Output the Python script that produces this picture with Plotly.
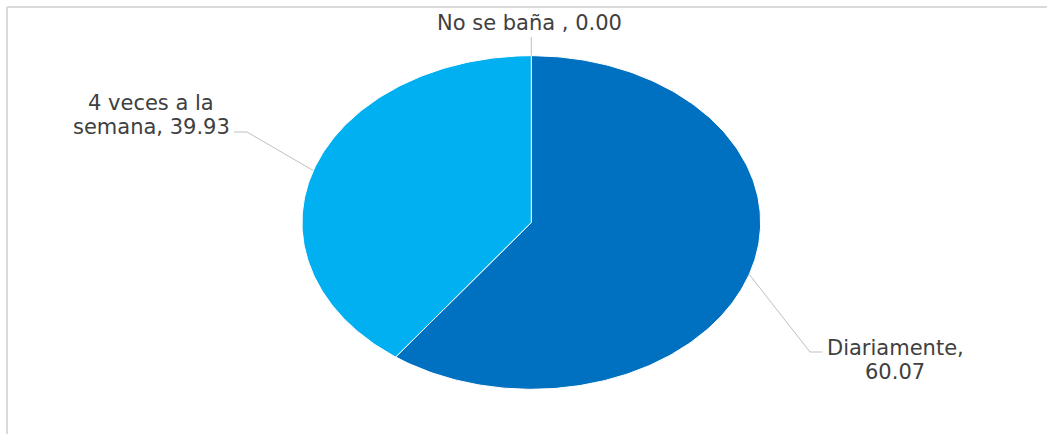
import numpy as np
import plotly.graph_objects as go

# ---- data ----
categories = ["No se baña ", "Diariamente", "4 veces a la semana"]
values = [0.00, 60.07, 39.93]
label_lines = [["No se baña , 0.00"], ["Diariamente,", "60.07"], ["4 veces a la", "semana, 39.93"]]

# ---- style / layout constants ----
colors = ["#4472C4", "#0070C0", "#00B0F0"]
W, H = 1047, 434
CX, CY, RX, RY = 531.3, 222.5, 229.3, 166.8  # ellipse centre and radii in pixels
TEXT_COLOR = "#404040"
LINE_COLOR = "#BFBFBF"
FONT = "DejaVu Sans"
FS = 21
# label layout: (elbow point, label end point, label centre x, first line centre y)
label_layout = [
    dict(elbow=None, end=(CX, 37), lx=529, ly=23),
    dict(elbow=(810, 352), end=(822, 352), lx=895, ly=348),
    dict(elbow=(247, 132), end=(234, 132), lx=151, ly=103),
]
LINE_GAP = 23.5


def pt(frac):
    """Point on ellipse at fraction of full turn, clockwise from 12 o'clock."""
    t = 2 * np.pi * frac
    return CX + RX * np.sin(t), CY - RY * np.cos(t)


fig = go.Figure()
total = sum(values)
cum = 0.0
anchors = []
for cat, v, col in zip(categories, values, colors):
    f0 = cum / total
    f1 = (cum + v) / total
    mid = (f0 + f1) / 2
    anchors.append(pt(mid))
    if v > 0:
        n = max(int(400 * (f1 - f0)), 2)
        fr = np.linspace(f0, f1, n)
        xs, ys = pt(fr)
        xs = np.concatenate([[CX], xs, [CX]])
        ys = np.concatenate([[CY], ys, [CY]])
        fig.add_trace(go.Scatter(
            x=xs, y=ys, mode="lines", fill="toself", fillcolor=col,
            line=dict(color="white", width=1), name=cat,
            hoverinfo="text", text=f"{cat}, {v:.2f}", showlegend=False))
    cum += v

# leader lines and labels
for (ax, ay), lay, lines in zip(anchors, label_layout, label_lines):
    pts = [(ax, ay)]
    if lay["elbow"] is not None:
        pts.append(lay["elbow"])
    pts.append(lay["end"])
    fig.add_trace(go.Scatter(
        x=[p[0] for p in pts], y=[p[1] for p in pts], mode="lines",
        line=dict(color=LINE_COLOR, width=1), hoverinfo="skip", showlegend=False))
    for i, txt in enumerate(lines):
        fig.add_annotation(
            x=lay["lx"], y=lay["ly"] + i * LINE_GAP, text=txt, showarrow=False,
            xanchor="center", yanchor="middle",
            font=dict(family=FONT, size=FS, color=TEXT_COLOR))

# chart-area border (top and left edges visible)
fig.add_shape(type="line", x0=7, y0=7, x1=W, y1=7, line=dict(color="#D9D9D9", width=2))
fig.add_shape(type="line", x0=7, y0=7, x1=7, y1=H, line=dict(color="#D9D9D9", width=2))

fig.update_layout(
    width=W, height=H, autosize=False,
    margin=dict(l=0, r=0, t=0, b=0),
    paper_bgcolor="white", plot_bgcolor="white",
    xaxis=dict(range=[0, W], visible=False, fixedrange=True),
    yaxis=dict(range=[H, 0], visible=False, fixedrange=True),
    showlegend=False,
)

fig.write_html("out.html")
